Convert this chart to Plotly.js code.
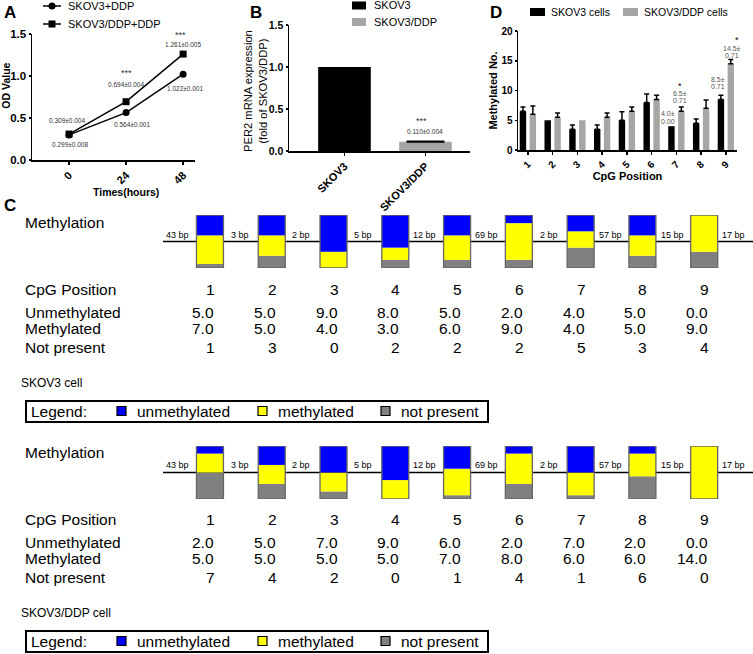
<!DOCTYPE html>
<html><head><meta charset="utf-8">
<script src="https://cdn.plot.ly/plotly-3.0.1.min.js"></script>
<style>html,body{margin:0;padding:0;background:#fff}#chart{width:753px;height:654px}</style>
</head><body><div id="chart"></div>
<script>
// ---------- Panel A data ----------
const timeHours = [0, 24, 48];
const timeTickText = ['0', '24', '48'];
const odSkov3 = [0.299, 0.564, 1.022];
const odSkov3Ddp = [0.309, 0.694, 1.261];
const odSkov3Labels = ['0.299±0.008', '0.564±0.001', '1.022±0.001'];
const odSkov3DdpLabels = ['0.309±0.004', '0.694±0.004', '1.261±0.005'];
const odSignif = ['', '***', '***'];
const aSeriesNames = ['SKOV3+DDP', 'SKOV3/DDP+DDP'];
const aTitles = ['Times(hours)', 'OD Value'];

// ---------- Panel B data ----------
const bCategories = ['SKOV3', 'SKOV3/DDP'];
const per2Values = [1.0, 0.110];
const per2Errors = [0, 0.004];
const per2Label = '0.110±0.004';
const per2Signif = '***';
const bTitle = 'PER2 mRNA expression<br>(fold of SKOV3/DDP)';

// ---------- Panel D data ----------
const cpgCats = ['1', '2', '3', '4', '5', '6', '7', '8', '9'];
const dSkov3 = [6.5, 5.0, 3.5, 3.5, 5.0, 8.0, 4.0, 4.5, 8.5];
const dSkov3Err = [0.71, 0, 0.71, 0.71, 1.41, 1.41, 0, 0.71, 0.71];
const dSkov3Ddp = [6.0, 5.5, 5.0, 5.5, 6.5, 8.5, 6.5, 7.0, 14.5];
const dSkov3DdpErr = [1.41, 0.71, 0, 0.71, 0.71, 0.71, 0.71, 1.41, 0.71];
const dSeriesNames = ['SKOV3 cells', 'SKOV3/DDP cells'];

// ---------- Panel C data ----------
const cpgIndex = [1, 2, 3, 4, 5, 6, 7, 8, 9];
const gapLabels = ['43 bp', '3 bp', '2 bp', '5 bp', '12 bp', '69 bp', '2 bp', '57 bp', '15 bp', '17 bp'];
const skovUnmeth = [5, 5, 9, 8, 5, 2, 4, 5, 0];
const skovMeth = [7, 5, 4, 3, 6, 9, 4, 5, 9];
const skovNotPresent = [1, 3, 0, 2, 2, 2, 5, 3, 4];
const ddpUnmeth = [2, 5, 7, 9, 6, 2, 7, 2, 0];
const ddpMeth = [5, 5, 5, 5, 7, 8, 6, 6, 14];
const ddpNotPresent = [7, 4, 2, 0, 1, 4, 1, 6, 0];
const rowLabels = ['Methylation', 'CpG Position', 'Unmethylated', 'Methylated', 'Not present'];
const cellCaptions = ['SKOV3 cell', 'SKOV3/DDP cell'];
const legendItems = ['unmethylated', 'methylated', 'not present'];

// ---------- helpers ----------
const W = 753, H = 654;
const X = p => p / W;
const Y = p => 1 - p / H;
const FONT = 'Liberation Sans, Arial, Helvetica, sans-serif';
const BLUE = '#0000ff', YELLOW = '#ffff00', GREY = '#808080';
const BARGREY = '#a6a6a6';

const traces = [];
const annotations = [];
const shapes = [];

function ann(o) { annotations.push(Object.assign({showarrow: false, font: {family: FONT, size: 12, color: '#000'}}, o)); }

// ---------- Panel A ----------
traces.push({type: 'scatter', mode: 'lines+markers', x: timeHours, y: odSkov3, xaxis: 'x', yaxis: 'y',
  line: {color: '#000', width: 1.5}, marker: {symbol: 'circle', size: 7, color: '#000'}, name: aSeriesNames[0], showlegend: false, hoverinfo: 'skip'});
traces.push({type: 'scatter', mode: 'lines+markers', x: timeHours, y: odSkov3Ddp, xaxis: 'x', yaxis: 'y',
  line: {color: '#000', width: 1.5}, marker: {symbol: 'square', size: 7, color: '#000'}, name: aSeriesNames[1], showlegend: false, hoverinfo: 'skip'});
const aUpperShift = [[-2, 14], [0, 17], [0, 10]];
const aLowerShift = [[1, -10], [6, -12], [2, -14]];
const aSigShift = [[0, 0], [0, 29], [-3, 19]];
timeHours.forEach((t, i) => {
  ann({xref: 'x', yref: 'y', x: t, y: odSkov3Ddp[i], xshift: aUpperShift[i][0], yshift: aUpperShift[i][1], text: odSkov3DdpLabels[i], font: {family: FONT, size: 6.5, color: '#333'}});
  ann({xref: 'x', yref: 'y', x: t, y: odSkov3[i], xshift: aLowerShift[i][0], yshift: aLowerShift[i][1], text: odSkov3Labels[i], font: {family: FONT, size: 6.5, color: '#333'}});
  if (odSignif[i]) ann({xref: 'x', yref: 'y', x: t, y: odSkov3Ddp[i], xshift: aSigShift[i][0], yshift: aSigShift[i][1], text: odSignif[i], font: {family: FONT, size: 9, color: '#333'}});
});
// axis titles A
ann({xref: 'x domain', yref: 'paper', x: 0.575, y: Y(192), xanchor: 'center', yanchor: 'middle', text: '<b>' + aTitles[0] + '</b>', font: {family: FONT, size: 10.5}});
ann({xref: 'paper', yref: 'y domain', x: X(6), y: 0.59, xanchor: 'center', yanchor: 'middle', textangle: -90, text: '<b>' + aTitles[1] + '</b>', font: {family: FONT, size: 10.5}});
// legend A (manual)
[[6, 'circle'], [24, 'square']].forEach((it, k) => {
  shapes.push({type: 'line', xref: 'paper', yref: 'paper', x0: X(43), x1: X(61), y0: Y(it[0]), y1: Y(it[0]), line: {color: '#000', width: 1.5}});
  if (it[1] === 'circle') shapes.push({type: 'circle', xref: 'paper', yref: 'paper', x0: X(48.5), x1: X(55.5), y0: Y(it[0] + 3.5), y1: Y(it[0] - 3.5), fillcolor: '#000', line: {width: 0}});
  else shapes.push({type: 'rect', xref: 'paper', yref: 'paper', x0: X(48.5), x1: X(55.5), y0: Y(it[0] + 3.5), y1: Y(it[0] - 3.5), fillcolor: '#000', line: {width: 0}});
  ann({xref: 'paper', yref: 'paper', x: X(66), y: Y(it[0]), xanchor: 'left', yanchor: 'middle', text: aSeriesNames[k], font: {family: FONT, size: 11, color: '#000'}});
});

// ---------- Panel B ----------
traces.push({type: 'bar', x: bCategories, y: per2Values, xaxis: 'x2', yaxis: 'y2', width: 0.65, offset: -0.325,
  marker: {color: ['#000', BARGREY], line: {width: 0}},
  error_y: {type: 'data', array: per2Errors.map(v => v > 0 ? v : NaN), arrayminus: per2Errors.map(v => v > 0 ? 0 : NaN), symmetric: false, color: '#000', thickness: 2, width: 19},
  showlegend: false, hoverinfo: 'skip'});
ann({xref: 'x2', yref: 'y2', x: bCategories[1], y: per2Values[1], yshift: 10, text: per2Label, font: {family: FONT, size: 6.5, color: '#333'}});
ann({xref: 'x2', yref: 'y2', x: bCategories[1], y: per2Values[1], yshift: 21, xshift: -4, text: per2Signif, font: {family: FONT, size: 9, color: '#333'}});
ann({xref: 'paper', yref: 'y2 domain', x: X(255.5), y: 0.48, xanchor: 'center', yanchor: 'middle', textangle: -90, text: bTitle, font: {family: FONT, size: 11.2}});
// legend B
[[5.5, '#000'], [22, BARGREY]].forEach((it, k) => {
  shapes.push({type: 'rect', xref: 'paper', yref: 'paper', x0: X(352), x1: X(366), y0: Y(it[0] + 4), y1: Y(it[0] - 4), fillcolor: it[1], line: {width: 0}});
  ann({xref: 'paper', yref: 'paper', x: X(372), y: Y(it[0]), xanchor: 'left', yanchor: 'middle', text: bCategories[k], font: {family: FONT, size: 11, color: '#000'}});
});

// ---------- Panel D ----------
traces.push({type: 'bar', x: cpgCats, y: dSkov3, xaxis: 'x3', yaxis: 'y3', width: 0.26, offset: -0.33,
  marker: {color: '#000', line: {width: 0}}, name: dSeriesNames[0],
  error_y: {type: 'data', array: dSkov3Err.map(v => v > 0 ? v : NaN), arrayminus: dSkov3Err.map(v => v > 0 ? 0 : NaN), symmetric: false, color: '#000', thickness: 1.5, width: 2.5},
  showlegend: false, hoverinfo: 'skip'});
traces.push({type: 'bar', x: cpgCats, y: dSkov3Ddp, xaxis: 'x3', yaxis: 'y3', width: 0.26, offset: 0.07,
  marker: {color: BARGREY, line: {width: 0}}, name: dSeriesNames[1],
  error_y: {type: 'data', array: dSkov3DdpErr.map(v => v > 0 ? v : NaN), arrayminus: dSkov3DdpErr.map(v => v > 0 ? 0 : NaN), symmetric: false, color: '#000', thickness: 1.5, width: 2.5},
  showlegend: false, hoverinfo: 'skip'});
const dFont = {family: FONT, size: 7, color: '#555'};
const i7 = cpgCats.indexOf('7'), i9 = cpgCats.indexOf('9');
// black bar 7
ann({xref: 'x3', yref: 'y3', x: i7, y: dSkov3[i7], xshift: -8.5, yshift: 5, text: dSkov3Err[i7].toFixed(2), font: dFont});
ann({xref: 'x3', yref: 'y3', x: i7, y: dSkov3[i7], xshift: -8.5, yshift: 13, text: dSkov3[i7].toFixed(1) + '±', font: dFont});
// grey bar 7
ann({xref: 'x3', yref: 'y3', x: i7, y: dSkov3Ddp[i7] + dSkov3DdpErr[i7], xshift: 4, yshift: 7, text: dSkov3DdpErr[i7].toFixed(2), font: dFont});
ann({xref: 'x3', yref: 'y3', x: i7, y: dSkov3Ddp[i7] + dSkov3DdpErr[i7], xshift: 4, yshift: 14, text: dSkov3Ddp[i7].toFixed(1) + '±', font: dFont});
ann({xref: 'x3', yref: 'y3', x: i7, y: dSkov3Ddp[i7] + dSkov3DdpErr[i7], xshift: 4, yshift: 21, text: '*', font: {family: FONT, size: 9, color: '#000'}});
// black bar 9
ann({xref: 'x3', yref: 'y3', x: i9, y: dSkov3[i9] + dSkov3Err[i9], xshift: -8, yshift: 9, text: dSkov3Err[i9].toFixed(2), font: dFont});
ann({xref: 'x3', yref: 'y3', x: i9, y: dSkov3[i9] + dSkov3Err[i9], xshift: -8, yshift: 16, text: dSkov3[i9].toFixed(1) + '±', font: dFont});
// grey bar 9
ann({xref: 'x3', yref: 'y3', x: i9, y: dSkov3Ddp[i9] + dSkov3DdpErr[i9], xshift: 6, yshift: 4, text: dSkov3DdpErr[i9].toFixed(2), font: dFont});
ann({xref: 'x3', yref: 'y3', x: i9, y: dSkov3Ddp[i9] + dSkov3DdpErr[i9], xshift: 6, yshift: 11, text: dSkov3Ddp[i9].toFixed(1) + '±', font: dFont});
ann({xref: 'x3', yref: 'y3', x: i9, y: dSkov3Ddp[i9] + dSkov3DdpErr[i9], xshift: 11, yshift: 20, text: '*', font: {family: FONT, size: 9, color: '#000'}});
// legend D
[[530, 549, '#000'], [623, 642, BARGREY]].forEach((it, k) => {
  shapes.push({type: 'rect', xref: 'paper', yref: 'paper', x0: X(it[0]), x1: X(it[0] + 15), y0: Y(16), y1: Y(8), fillcolor: it[2], line: {width: 0}});
  ann({xref: 'paper', yref: 'paper', x: X(it[1]), y: Y(12), xanchor: 'left', yanchor: 'middle', text: dSeriesNames[k], font: {family: FONT, size: 10.5, color: '#000'}});
});

// ---------- Panel C ----------
const blocks = [
  {u: skovUnmeth, m: skovMeth, n: skovNotPresent, xa: 'x4', ya: 'y4', off: 0, cap: cellCaptions[0]},
  {u: ddpUnmeth, m: ddpMeth, n: ddpNotPresent, xa: 'x5', ya: 'y5', off: 230, cap: cellCaptions[1]}
];
const BOXW = 0.437;
blocks.forEach(b => {
  const tot = b.u.map((v, i) => v + b.m[i] + b.n[i]);
  const nf = b.n.map((v, i) => v / tot[i]);
  const mf = b.m.map((v, i) => v / tot[i]);
  const uf = b.u.map((v, i) => v / tot[i]);
  const common = {type: 'bar', x: cpgIndex, xaxis: b.xa, yaxis: b.ya, width: BOXW, offset: -BOXW / 2, showlegend: false, hoverinfo: 'skip'};
  traces.push(Object.assign({}, common, {y: nf, base: 0, marker: {color: GREY, line: {width: 0}}}));
  traces.push(Object.assign({}, common, {y: mf, base: nf, marker: {color: YELLOW, line: {width: 0}}}));
  traces.push(Object.assign({}, common, {y: uf, base: nf.map((v, i) => v + mf[i]), marker: {color: BLUE, line: {width: 0}}}));
  traces.push(Object.assign({}, common, {y: tot.map(t => t / t), base: 0, marker: {color: 'rgba(0,0,0,0)', line: {color: '#666', width: 1.3}}}));
  // backbone line
  shapes.push({type: 'line', xref: b.xa + ' domain', yref: b.ya, x0: 0, x1: 1, y0: 0.5, y1: 0.5, line: {color: '#000', width: 1.5}, layer: 'below'});
  // gap labels
  gapLabels.forEach((g, i) => ann({xref: b.xa, yref: b.ya, x: i + 0.48, y: 0.5, yshift: 7, text: g, font: {family: FONT, size: 9, color: '#000'}}));
  // row labels
  const rowY = [223, 289, 312, 328.5, 347];
  rowLabels.forEach((r, i) => ann({xref: 'paper', yref: 'paper', x: X(23), y: Y(rowY[i] + b.off), xanchor: 'left', yanchor: 'middle', text: r, font: {family: FONT, size: 15.5, color: '#000'}}));
  cpgIndex.forEach((c, i) => {
    ann({xref: b.xa, yref: 'paper', x: c, xshift: 7, xanchor: 'right', y: Y(289 + b.off), yanchor: 'middle', text: String(c), font: {family: FONT, size: 15.5}});
    ann({xref: b.xa, yref: 'paper', x: c, xshift: 6, xanchor: 'right', y: Y(312 + b.off), yanchor: 'middle', text: b.u[i].toFixed(1), font: {family: FONT, size: 15.5}});
    ann({xref: b.xa, yref: 'paper', x: c, xshift: 6, xanchor: 'right', y: Y(328.5 + b.off), yanchor: 'middle', text: b.m[i].toFixed(1), font: {family: FONT, size: 15.5}});
    ann({xref: b.xa, yref: 'paper', x: c, xshift: 7, xanchor: 'right', y: Y(347 + b.off), yanchor: 'middle', text: String(b.n[i]), font: {family: FONT, size: 15.5}});
  });
  // caption
  ann({xref: 'paper', yref: 'paper', x: X(19), y: Y(383 + b.off), xanchor: 'left', yanchor: 'middle', text: b.cap, font: {family: FONT, size: 12, color: '#000'}});
  // legend box
  shapes.push({type: 'rect', xref: 'paper', yref: 'paper', x0: X(26), x1: X(488), y0: Y(422 + b.off), y1: Y(401 + b.off), line: {color: '#000', width: 2}});
  ann({xref: 'paper', yref: 'paper', x: X(29), y: Y(411 + b.off), xanchor: 'left', yanchor: 'middle', text: 'Legend:', font: {family: FONT, size: 15.5}});
  [[117, 135, BLUE], [258, 276, YELLOW], [381, 399, GREY]].forEach((it, k) => {
    shapes.push({type: 'rect', xref: 'paper', yref: 'paper', x0: X(it[0]), x1: X(it[0] + 9), y0: Y(415.5 + b.off), y1: Y(406.5 + b.off), fillcolor: it[2], line: {color: '#000', width: 1.2}});
    ann({xref: 'paper', yref: 'paper', x: X(it[1]), y: Y(411 + b.off), xanchor: 'left', yanchor: 'middle', text: legendItems[k], font: {family: FONT, size: 15.5}});
  });
});

// panel letters
[['A', 10, 12], ['B', 256, 12], ['C', 10, 205], ['D', 496, 12]].forEach(l =>
  ann({xref: 'paper', yref: 'paper', x: X(l[1]), y: Y(l[2]), xanchor: 'center', yanchor: 'middle', text: '<b>' + l[0] + '</b>', font: {family: FONT, size: 17, color: '#000'}}));

const axBase = {showline: true, linecolor: '#000', linewidth: 1.5, ticks: 'outside', ticklen: 3, tickwidth: 1.5, tickcolor: '#000', showgrid: false, zeroline: false, fixedrange: true};
const boxAx = {visible: false, showgrid: false, zeroline: false, fixedrange: true};

const layout = {
  width: W, height: H, margin: {l: 0, r: 0, t: 0, b: 0}, paper_bgcolor: '#fff', plot_bgcolor: 'rgba(0,0,0,0)',
  font: {family: FONT, color: '#000'}, showlegend: false, barmode: 'group',
  xaxis: Object.assign({}, axBase, {domain: [X(32), X(195)], range: [-15.6, 53], tickvals: timeHours, ticktext: timeTickText, tickangle: -45,
    tickfont: {size: 11, weight: 'bold'}, anchor: 'y'}),
  yaxis: Object.assign({}, axBase, {domain: [Y(160), Y(34)], range: [0, 1.5], dtick: 0.5, tickformat: '.1f', ticklen: 2,
    tickfont: {size: 11.5, weight: 'bold'}, anchor: 'x'}),
  xaxis2: Object.assign({}, axBase, {domain: [X(289), X(470)], range: [-0.685, 1.55], type: 'category', tickangle: -45,
    tickfont: {size: 11, weight: 'bold'}, anchor: 'y2'}),
  yaxis2: Object.assign({}, axBase, {domain: [Y(151), Y(25)], range: [0, 1.5], dtick: 0.5, tickformat: '.1f', ticklen: 2,
    tickfont: {size: 10.5, weight: 'bold'}, anchor: 'x2'}),
  xaxis3: Object.assign({}, axBase, {domain: [X(518), X(737)], range: [-0.4, 8.45], type: 'category', tickangle: -45,
    tickfont: {size: 10, weight: 'bold'}, title: {text: 'CpG Position', font: {size: 11, weight: 'bold'}, standoff: 1}, anchor: 'y3'}),
  yaxis3: Object.assign({}, axBase, {domain: [Y(150), Y(31)], range: [0, 20], dtick: 5, ticklen: 2,
    tickfont: {size: 10, weight: 'bold'}, title: {text: 'Methylated No.', font: {size: 11, weight: 'bold'}, standoff: 1}, anchor: 'x3'}),
  xaxis4: Object.assign({}, boxAx, {domain: [X(163), 1], range: [0.24, 9.79], anchor: 'y4'}),
  yaxis4: Object.assign({}, boxAx, {domain: [Y(268), Y(215)], range: [0, 1], anchor: 'x4'}),
  xaxis5: Object.assign({}, boxAx, {domain: [X(163), 1], range: [0.24, 9.79], anchor: 'y5'}),
  yaxis5: Object.assign({}, boxAx, {domain: [Y(499), Y(446)], range: [0, 1], anchor: 'x5'}),
  annotations: annotations, shapes: shapes
};

Plotly.newPlot('chart', traces, layout, {displayModeBar: false, staticPlot: true});
</script>
</body></html>
